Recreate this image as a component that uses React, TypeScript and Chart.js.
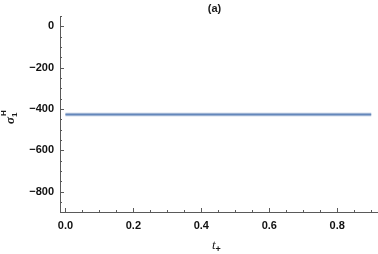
import React, { useEffect, useRef } from "react";
import { Chart, registerables } from "chart.js";

Chart.register(...registerables);

const T_VALUES = [0, 0.15, 0.3, 0.45, 0.6, 0.75, 0.9];
const SIGMA_VALUES = [-427, -427, -427, -427, -427, -427, -427];
const X_TICKS = [0, 0.2, 0.4, 0.6, 0.8];
const Y_TICKS = [-800, -600, -400, -200, 0];
const X_MINOR_STEP = 0.05;
const Y_MINOR_STEP = 50;
const TITLE = "(a)";

const AXIS_COLOR = "#5a5a5a";

const decorPlugin = {
  id: "decor",
  afterDraw(chart: any) {
    const ctx = chart.ctx as CanvasRenderingContext2D;
    const xs = chart.scales.x;
    const ys = chart.scales.y;
    const area = chart.chartArea;
    ctx.save();
    ctx.strokeStyle = AXIS_COLOR;
    ctx.lineWidth = 1;
    const startY = Math.ceil(ys.min / Y_MINOR_STEP) * Y_MINOR_STEP;
    for (let v = startY; v <= ys.max + 1e-9; v += Y_MINOR_STEP) {
      const major = Y_TICKS.includes(Math.round(v));
      const py = Math.round(ys.getPixelForValue(v)) + 0.5;
      const len = major ? 4 : 2;
      ctx.beginPath();
      ctx.moveTo(area.left, py);
      ctx.lineTo(area.left + len, py);
      ctx.stroke();
    }
    const startX = Math.ceil(xs.min / X_MINOR_STEP) * X_MINOR_STEP;
    for (let v = startX; v <= xs.max + 1e-9; v += X_MINOR_STEP) {
      const r = Math.round(v * 100) / 100;
      const major = X_TICKS.some((t) => Math.abs(t - r) < 1e-6);
      const px = Math.round(xs.getPixelForValue(r)) + 0.5;
      const len = major ? 4 : 2;
      ctx.beginPath();
      ctx.moveTo(px, area.bottom);
      ctx.lineTo(px, area.bottom - len);
      ctx.stroke();
    }
    ctx.fillStyle = "#1a1a1a";
    ctx.textAlign = "center";
    ctx.textBaseline = "middle";
    ctx.font = "bold 11px 'Liberation Sans', Arial, sans-serif";
    ctx.fillText(TITLE, (area.left + area.right) / 2 - 4, 9);

    ctx.textAlign = "left";
    ctx.textBaseline = "alphabetic";
    ctx.font = "italic 13px 'Liberation Serif', serif";
    const tx = 212;
    const ty = 249;
    ctx.fillText("t", tx, ty);
    const tw = ctx.measureText("t").width;
    ctx.font = "bold 9px 'Liberation Sans', sans-serif";
    ctx.fillText("+", tx + tw, ty + 3);

    ctx.translate(14, 124);
    ctx.rotate(-Math.PI / 2);
    ctx.font = "italic bold 13px 'Liberation Serif', serif";
    ctx.fillText("σ", 0, 0);
    const sw = ctx.measureText("σ").width;
    ctx.font = "bold 8px 'Liberation Sans', sans-serif";
    ctx.fillText("1", sw, 3);
    ctx.fillText("H", sw + 1, -8);
    ctx.restore();
  },
};

export default function App() {
  const ref = useRef<HTMLCanvasElement | null>(null);
  useEffect(() => {
    if (!ref.current) return;
    const chart = new Chart(ref.current, {
      type: "line",
      data: {
        datasets: [
          {
            data: T_VALUES.map((t, i) => ({ x: t, y: SIGMA_VALUES[i] })),
            borderColor: "rgba(94,129,181,0.5)",
            borderWidth: 3.5,
            pointRadius: 0,
            fill: false,
          },
          {
            data: T_VALUES.map((t, i) => ({ x: t, y: SIGMA_VALUES[i] })),
            borderColor: "#6a8cc0",
            borderWidth: 1.5,
            pointRadius: 0,
            fill: false,
          },
        ],
      },
      options: {
        responsive: false,
        animation: false,
        devicePixelRatio: 1,
        layout: { padding: { top: 16, left: 0, right: 1, bottom: 0 } },
        plugins: { legend: { display: false }, tooltip: { enabled: false }, title: { display: false } },
        scales: {
          x: {
            type: "linear",
            min: -0.016,
            max: 0.917,
            grid: { display: false, drawTicks: false },
            border: { display: true, color: AXIS_COLOR, width: 1 },
            afterBuildTicks: (s: any) => {
              s.ticks = X_TICKS.map((v) => ({ value: v }));
            },
            afterFit: (s: any) => {
              s.height = 42;
            },
            ticks: {
              padding: 7,
              color: "#111",
              font: { family: "'Liberation Sans', Arial, sans-serif", size: 11, weight: "bold" },
              callback: (v: any) => Number(v).toFixed(1),
              maxRotation: 0,
              autoSkip: false,
            },
          },
          y: {
            type: "linear",
            min: -898,
            max: 50,
            grid: { display: false, drawTicks: false },
            border: { display: true, color: AXIS_COLOR, width: 1 },
            afterBuildTicks: (s: any) => {
              s.ticks = Y_TICKS.map((v) => ({ value: v }));
            },
            afterFit: (s: any) => {
              s.width = 60;
            },
            ticks: {
              padding: 6,
              color: "#111",
              font: { family: "'Liberation Sans', Arial, sans-serif", size: 11, weight: "bold" },
              callback: (v: any) => (Number(v) < 0 ? "\u2212" + Math.abs(Number(v)) : String(v)),
              autoSkip: false,
            },
          },
        },
      },
      plugins: [decorPlugin],
    });
    return () => chart.destroy();
  }, []);
  return (
    <div style={{ position: "fixed", left: 0, top: 0, width: 378, height: 254, background: "#fff" }}>
      <canvas ref={ref} width={378} height={254} />
    </div>
  );
}
